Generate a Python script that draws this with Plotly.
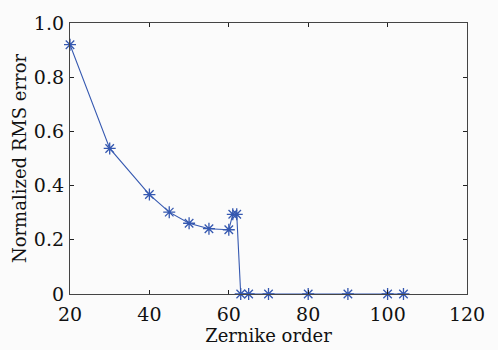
import plotly.graph_objects as go

order = [20, 30, 40, 45, 50, 55, 60, 61, 62, 63, 65, 70, 80, 90, 100, 104]
rms_err = [0.92, 0.537, 0.367, 0.302, 0.261, 0.241, 0.237, 0.294, 0.294, 0.0, 0.0, 0.0, 0.0, 0.0, 0.0, 0.0]

x_ticks = [20, 40, 60, 80, 100, 120]
y_ticks = [0, 0.2, 0.4, 0.6, 0.8, 1.0]
y_labels = ["0", "0.2", "0.4", "0.6", "0.8", "1.0"]

font_family = "DejaVu Serif"
blue = "#3558b0"

fig = go.Figure()
fig.add_trace(go.Scatter(
    x=order, y=rms_err, mode="lines+markers",
    line=dict(color=blue, width=1.1),
    marker=dict(symbol="asterisk-open", size=10, color=blue, line=dict(color=blue, width=1.3)),
    cliponaxis=False,
))

axis_common = dict(
    showline=True, mirror="ticks", linecolor="#444", linewidth=1.3,
    ticks="inside", ticklen=4, tickcolor="#222", tickwidth=1,
    showgrid=False, zeroline=False,
    tickfont=dict(family=font_family, size=19, color="#111"),
)

fig.update_layout(
    width=498, height=350,
    margin=dict(l=70, r=31, t=15, b=55),
    paper_bgcolor="#fbfbfb", plot_bgcolor="#fbfbfb",
    showlegend=False,
    font=dict(family=font_family),
    xaxis=dict(range=[20, 120], tickvals=x_ticks, ticklabelstandoff=3,
               title=dict(text="Zernike order", font=dict(family=font_family, size=18, color="#111"), standoff=0),
               **axis_common),
    yaxis=dict(range=[0, 1.0], tickvals=y_ticks, ticktext=y_labels, ticklabelstandoff=1,
               title=dict(text="Normalized RMS error", font=dict(family=font_family, size=18, color="#111"), standoff=2),
               **axis_common),
)

fig.write_html("out.html")
